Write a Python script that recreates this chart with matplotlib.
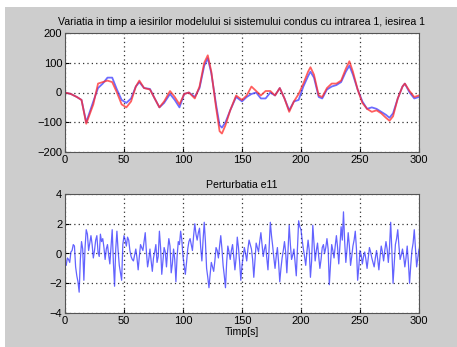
import matplotlib
matplotlib.use("Agg")
import matplotlib.pyplot as plt
from matplotlib.patches import Rectangle

plt.rcParams['font.family'] = ['Liberation Sans', 'DejaVu Sans']

# ---- data: top plot (model = blue, system = red) ----
t_red = [0, 5, 10, 14, 18, 24, 28, 32, 36, 40, 44, 48, 52, 56, 60, 63, 67, 72, 76, 80,
         84, 89, 93, 97, 101, 105, 110, 114, 118, 121, 124, 128, 131, 133, 136, 140, 145,
         150, 154, 158, 162, 166, 170, 174, 178, 182, 186, 190, 194, 198, 202, 206, 208,
         211, 215, 218, 222, 226, 230, 234, 238, 241, 244, 248, 252, 256, 260, 264, 268,
         272, 275, 278, 282, 286, 288, 292, 296, 300]
y_red = [0, -5, -15, -25, -105, -40, 30, 35, 40, 35, 0, -40, -50, -30, 20, 40, 15, 10, -20, -50,
         -30, 5, -15, -40, -5, 0, -20, 20, 100, 125, 70, -50, -130, -138, -110, -60, -10,
         -25, -10, 20, 5, -10, 5, 5, -10, 15, -20, -65, -30, -5, 30, 70, 85,
         60, -10, -15, 15, 30, 30, 40, 80, 105, 70, 10, -35, -55, -65, -60, -70,
         -85, -95, -80, -20, 20, 30, 5, -15, -10]

t_blue = t_red
y_blue = [0, -5, -15, -25, -100, -30, 15, 30, 50, 50, 10, -25, -35, -20, 20, 35, 15, 12, -20, -50,
          -35, -5, -25, -50, -5, 0, -15, 15, 90, 115, 65, -40, -110, -118, -100, -60, -15,
          -30, -15, -5, 0, -20, -20, 0, -10, 15, -20, -60, -30, -25, 20, 55, 70,
          50, -15, -20, 10, 20, 25, 35, 70, 90, 60, 10, -30, -55, -50, -55, -65,
          -75, -85, -70, -20, 20, 30, 0, -20, -15]

# ---- data: bottom plot (disturbance e11), one value per second 0..300 ----
t_noise = list(range(0, 301))
e11 = [-0.5, -0.8, -0.3, -0.4, -0.6, 0.1, 0.2, 0.6, 0.5, -0.9, -1.5, -1.9, -2.6, -0.4, 0.8, 0.3, -1.8, 0.4, 1.6, 1.3, 0.2,
       0.7, 1.2, 0.6, -0.3, 0.2, 0.9, 1.2, 0.1, -0.2, 1.3, 0.8, 1.0, 0.4, -0.4, 0.3, 0.6, -0.1, -0.7, 0.5, 1.6,
       -0.6, -2.2, 0.3, 1.5, 0.2, -0.8, -1.3, -1.8, 0.6, 1.2, 0.9, 0.5, 1.1, 0.9, 0.2, -0.2, -0.4, -0.5, -0.1, 0.3,
       -0.3, -1.1, -0.2, 0.6, 0.4, 0.2, 0.8, 1.4, 0.1, -0.9, -0.4, 0.3, -0.5, -1.2, -0.3, 0.1, 0.6, -0.6, -0.2, 1.5,
       0.4, -1.4, -0.5, 0.4, 0.1, -0.9, 0.2, 1.0, 0.5, -1.3, -0.7, 0.3, -0.4, -1.9, -0.2, 0.8, 0.6, 1.5, 0.9, -0.2,
       -0.8, -1.4, -0.6, 0.3, 0.8, 1.0, 0.6, 0.2, 1.2, 2.0, 1.3, 0.9, 1.4, 1.7, 0.4, -0.5, 0.9, 2.1, 0.8, -1.0,
       -1.6, -2.3, -1.4, -0.6, -0.9, -1.2, -0.5, 0.4, 0.2, -0.3, 0.5, 1.2, 0.3, -0.8, -1.5, -2.3, -0.6, 0.5, 0.1, -0.4,
       0.2, 0.6, -0.2, -1.1, -0.3, 1.1, 0.4, -0.6, -1.8, -0.8, -0.2, 0.4, 0.0, -0.5, 0.3, 0.9, 0.6, 0.3, -0.4, -1.6,
       -0.5, 0.7, 0.4, 0.1, 0.8, 1.4, 0.6, -0.2, 0.3, 0.6, -0.3, -1.1, 0.4, 2.1, 1.2, 0.5, -0.3, -1.0, -0.2, 0.4,
       -0.6, -1.9, -1.0, -0.3, 0.2, 0.8, 0.1, -1.3, 0.2, 1.9, 0.6, -0.4, -0.1, 0.3, -0.6, -1.5, 0.4, 2.2, 1.8, 1.6,
       0.9, 0.3, -0.2, -0.8, 0.1, 0.9, 0.2, -1.6, -0.5, 1.9, 0.7, -0.5, 0.2, 0.7, -0.2, -1.0, -0.4, 0.4, 0.6, 0.0,
       0.4, 1.0, 0.3, -2.1, -0.7, 0.6, 0.2, -0.3, 0.5, 1.2, 0.4, -0.7, 0.5, 1.8, 0.9, 2.8, 0.8, -0.6, 0.3, 1.4,
       0.5, -0.8, -0.2, 0.5, 0.9, 1.5, 0.3, -1.8, -0.9, 0.2, -0.1, -0.7, -0.2, 0.1, -0.4, -1.0, -0.3, 0.4, 0.1, -0.3,
       -0.6, -0.9, -0.3, 0.2, -0.4, -1.1, -0.2, 0.5, 0.1, -0.5, 0.2, 0.8, 0.3, -0.6, 0.4, 2.1, 0.2, -2.0, -0.7, 0.6,
       1.0, 1.6, 0.5, -0.4, -0.1, 0.3, -0.2, -0.9, -0.3, 0.5, -0.6, -2.0, -0.8, 0.2, 0.7, 1.6, 0.4, -0.9, -0.3, 0.3]

title_top = "Variatia in timp a iesirilor modelului si sistemului condus cu intrarea 1, iesirea 1"
title_bottom = "Perturbatia e11"
xlabel_bottom = "Timp[s]"
xticks = [0, 50, 100, 150, 200, 250, 300]
yticks_top = [-200, -100, 0, 100, 200]
yticks_bottom = [-4, -2, 0, 2, 4]

W, H = 457, 347
fig = plt.figure(figsize=(W / 100, H / 100), dpi=100, facecolor='white')
fig.patches.append(Rectangle((5 / W, 0), 1 - 5 / W, 1 - 7 / H, transform=fig.transFigure,
                             facecolor='#cdcdcd', edgecolor='none', zorder=-10))

def style(ax, yticks):
    ax.set_xlim(0, 300)
    ax.set_xticks(xticks)
    ax.set_yticks(yticks)
    ax.set_ylim(yticks[0], yticks[-1])
    ax.tick_params(direction='in', length=3, labelsize=8, pad=2, colors='black')
    ax.grid(True, color='#333333', linestyle=(0, (1, 2.5)), linewidth=0.9)
    for s in ax.spines.values():
        s.set_color('#555555')
        s.set_linewidth(0.8)

ax1 = fig.add_axes([65 / W, 1 - 152 / H, 354 / W, 119 / H])
style(ax1, yticks_top)
ax1.plot(t_blue, y_blue, color='#3b3bff', linewidth=1.3, alpha=0.75)
ax1.plot(t_red, y_red, color='#ff2a2a', linewidth=1.3, alpha=0.75)
ax1.set_title(title_top, fontsize=7.6, pad=6)

ax2 = fig.add_axes([65 / W, 1 - 313 / H, 354 / W, 119 / H])
style(ax2, yticks_bottom)
ax2.plot(t_noise, e11, color='#2f2fff', linewidth=0.9, alpha=0.75)
ax2.set_title(title_bottom, fontsize=7.6, pad=4)
ax2.set_xlabel(xlabel_bottom, fontsize=7.6, labelpad=1)

fig.savefig("out.png", dpi=100, facecolor=fig.get_facecolor())
